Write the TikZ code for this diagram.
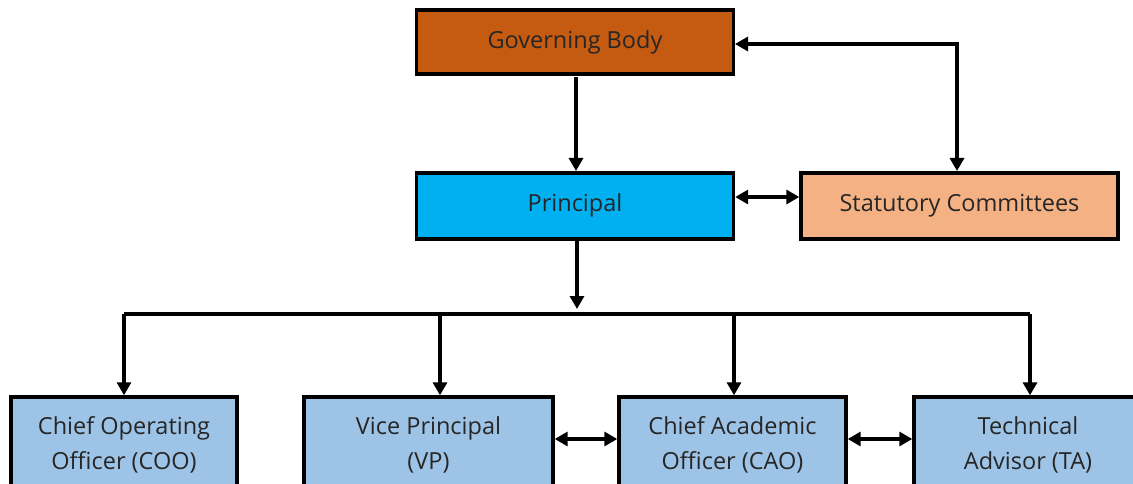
\documentclass[tikz,border=0pt]{standalone}
\usepackage{fontspec}
\setmainfont{Open Sans}
\usetikzlibrary{arrows.meta}
\definecolor{gbcol}{HTML}{C55A11}
\definecolor{prcol}{HTML}{00B0F0}
\definecolor{stcol}{HTML}{F4B183}
\definecolor{lowcol}{HTML}{9DC3E6}
\begin{document}
\begin{tikzpicture}[x=1pt,y=-1pt,
  box/.style={draw=black,line width=3.4pt,inner sep=0pt,align=center,font=\fontsize{23.5}{35}\selectfont,text=black!85},
  conn/.style={line width=3.2pt,-{Triangle[length=13pt,width=14pt]}},
  dconn/.style={line width=3.2pt,{Triangle[length=13pt,width=14pt]}-{Triangle[length=13pt,width=14pt]}}]
\useasboundingbox (0,0) rectangle (1133,484);
\begin{scope}
\clip (0,0) rectangle (1133,484);
\node[box,fill=gbcol,minimum width=317pt,minimum height=64pt] (gb) at (575,42) {\raisebox{2pt}{Governing Body}};
\node[box,fill=prcol,minimum width=317pt,minimum height=66pt] (pr) at (575,206) {\raisebox{6pt}{Principal}};
\node[box,fill=stcol,minimum width=317pt,minimum height=66pt] (st) at (959.5,206) {\raisebox{6pt}{Statutory Committees}};
\node[box,fill=lowcol,minimum width=226pt,minimum height=96pt] (coo) at (124,445) {Chief Operating\\Officer (COO)};
\node[box,fill=lowcol,minimum width=249pt,minimum height=96pt] (vp) at (428.5,445) {Vice Principal\\(VP)};
\node[box,fill=lowcol,minimum width=227pt,minimum height=96pt] (cao) at (732.5,445) {Chief Academic\\Officer (CAO)};
\node[box,fill=lowcol,minimum width=228pt,minimum height=96pt] (ta) at (1028,445) {Technical\\Advisor (TA)};
\end{scope}
\coordinate (gbe) at (735,44);
\coordinate (stn) at (957,171);
\coordinate (bus) at (577,309);
\coordinate (busl) at (124,314);
\coordinate (busr) at (1030,314);
\draw[conn] (576,77) -- (576,171);
\draw[dconn] (gbe) -| (stn);
\draw[dconn] (pr.east |- 0,197) -- (st.west |- 0,197);
\draw[conn] (pr.south -| bus) -- (bus);
\draw[line width=3.2pt] (busl) -- (busr);
\draw[conn] (busl) -- (coo.north -| busl);
\draw[conn] (440,314) -- (vp.north -| 440,0);
\draw[conn] (734,314) -- (cao.north -| 734,0);
\draw[conn] (busr) -- (ta.north -| busr);
\draw[dconn] (vp.east |- 0,439) -- (cao.west |- 0,439);
\draw[dconn] (cao.east |- 0,439) -- (ta.west |- 0,439);
\end{tikzpicture}
\end{document}
